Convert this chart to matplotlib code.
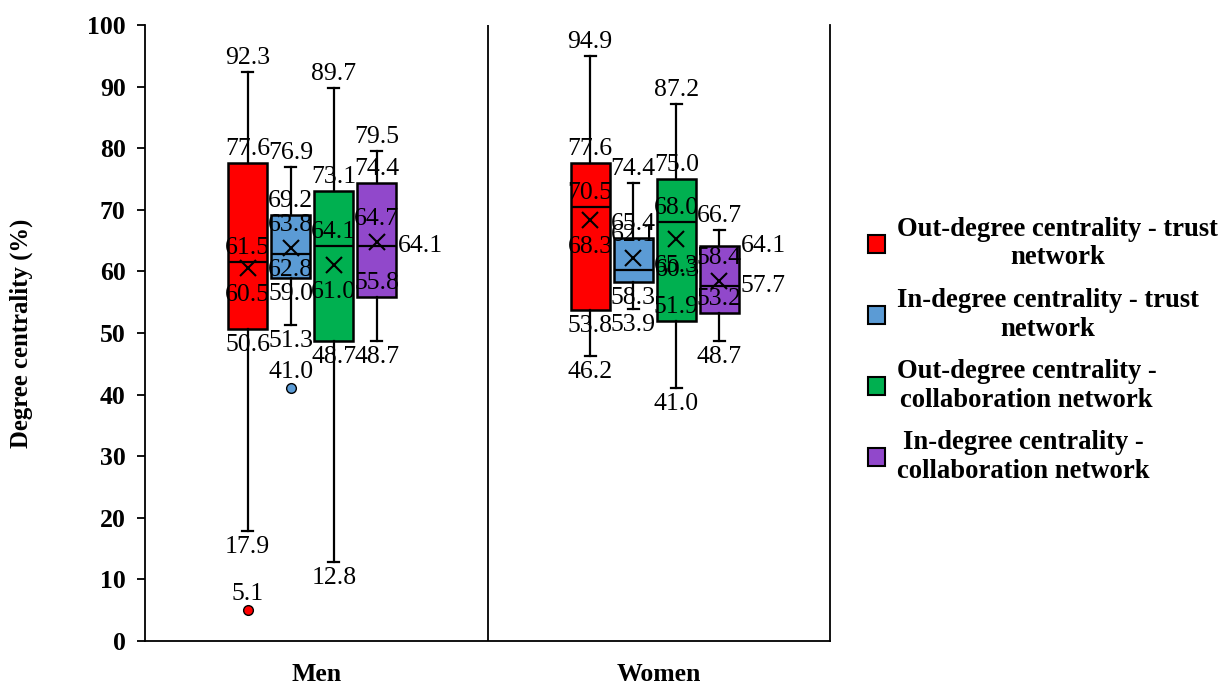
import matplotlib
matplotlib.use("Agg")
import matplotlib.pyplot as plt
from matplotlib.patches import Patch

plt.rcParams['font.family'] = ['Liberation Serif', 'DejaVu Serif']

groups = ['Men', 'Women']
series = ['Out-degree centrality - trust\nnetwork',
          'In-degree centrality - trust\nnetwork',
          'Out-degree centrality -\ncollaboration network',
          'In-degree centrality -\ncollaboration network']
colors = ['#FF0000', '#5B9BD5', '#00B050', '#9148CB']

# stats per group, one entry per series
whislo = [[17.9, 51.3, 12.8, 48.7], [46.2, 53.9, 41.0, 48.7]]
q1 = [[50.6, 59.0, 48.7, 55.8], [53.8, 58.3, 51.9, 53.2]]
med = [[61.5, 62.8, 64.1, 64.1], [70.5, 60.3, 68.0, 57.7]]
mean = [[60.5, 63.8, 61.0, 64.7], [68.3, 62.1, 65.3, 58.4]]
q3 = [[77.6, 69.2, 73.1, 74.4], [77.6, 65.4, 75.0, 64.1]]
whishi = [[92.3, 76.9, 89.7, 79.5], [94.9, 74.4, 87.2, 66.7]]
fliers = [[[5.1], [41.0], [], []], [[], [], [], []]]

# label placement: a = above, b = below, r = right of box
# order: whishi, q3, med, mean, q1, whislo
label_pos = [
    [['a', 'a', 'a', 'b', 'b', 'b'],
     ['a', 'a', 'b', 'a', 'b', 'b'],
     ['a', 'a', 'a', 'b', 'b', 'b'],
     ['a', 'a', 'r', 'a', 'a', 'b']],
    [['a', 'a', 'a', 'b', 'b', 'b'],
     ['a', 'a', 'r', 'a', 'b', 'b'],
     ['a', 'a', 'a', 'b', 'a', 'b'],
     ['a', 'r', 'r', 'a', 'a', 'b']],
]

fig = plt.figure(figsize=(12.19, 6.84), dpi=100)
ax = fig.add_axes([0.119, 0.0629, 0.562, 0.9006])

width = 0.114
step = 0.1257
shift = -0.012
lbl_size = 18.5

for g in range(len(groups)):
    for s in range(len(series)):
        x = g + 0.5 + shift + (s - 1.5) * step
        st = dict(med=med[g][s], q1=q1[g][s], q3=q3[g][s],
                  whislo=whislo[g][s], whishi=whishi[g][s],
                  mean=mean[g][s], fliers=fliers[g][s])
        ax.bxp([st], positions=[x], widths=width, showmeans=True,
               patch_artist=True, capwidths=0.032,
               boxprops=dict(facecolor=colors[s], edgecolor='black', linewidth=1.8),
               medianprops=dict(color='black', linewidth=1.6),
               whiskerprops=dict(color='black', linewidth=1.6),
               capprops=dict(color='black', linewidth=1.6),
               meanprops=dict(marker='x', markersize=12, markeredgecolor='black',
                              markeredgewidth=1.5),
               flierprops=dict(marker='o', markersize=7, markerfacecolor=colors[s],
                               markeredgecolor='black', markeredgewidth=1))
        vals = [whishi[g][s], q3[g][s], med[g][s], mean[g][s], q1[g][s], whislo[g][s]]
        for k, (v, p) in enumerate(zip(vals, label_pos[g][s])):
            is_mean = (k == 3)
            if p == 'r':
                ax.annotate(f'{v:.1f}', (x + width / 2, v), xytext=(2, 0),
                            textcoords='offset pixels', ha='left', va='center',
                            fontsize=lbl_size)
            else:
                off = (23 if is_mean else 14) if p == 'a' else (-27 if is_mean else -16)
                ax.annotate(f'{v:.1f}', (x, v), xytext=(0, off),
                            textcoords='offset pixels', ha='center', va='center',
                            fontsize=lbl_size)
        for f in fliers[g][s]:
            ax.annotate(f'{f:.1f}', (x, f), xytext=(0, 16), textcoords='offset pixels',
                        ha='center', va='center', fontsize=lbl_size)

ax.axvline(1, color='black', linewidth=1.3)
ax.set_xlim(0, 2)
ax.set_ylim(0, 100)
ax.set_yticks(range(0, 101, 10))
ax.set_xticks([0.5, 1.5])
ax.set_xticklabels(groups, fontsize=18.5, fontweight='bold')
ax.tick_params(axis='x', length=0, pad=16)
ax.tick_params(axis='y', direction='out', length=6, width=1.3, pad=8, labelsize=18.5)
for t in ax.get_yticklabels():
    t.set_fontweight('bold')
ax.spines['top'].set_visible(False)
for sp in ['left', 'bottom', 'right']:
    ax.spines[sp].set_linewidth(1.3)
ax.set_ylabel('Degree centrality (%)', fontsize=17.8, fontweight='bold')
ax.yaxis.set_label_coords(-0.164, 0.5)

handles = [Patch(facecolor=c, edgecolor='black', linewidth=1.5) for c in colors]
leg = fig.legend(handles, series, loc='center left', bbox_to_anchor=(0.692, 0.488),
                 frameon=False, prop=dict(size=19.2, weight='bold'),
                 handlelength=0.65, handleheight=0.65, handletextpad=0.45,
                 labelspacing=0.65)
for t in leg.get_texts():
    t.set_multialignment('center')

fig.savefig('out.png', dpi=100)
